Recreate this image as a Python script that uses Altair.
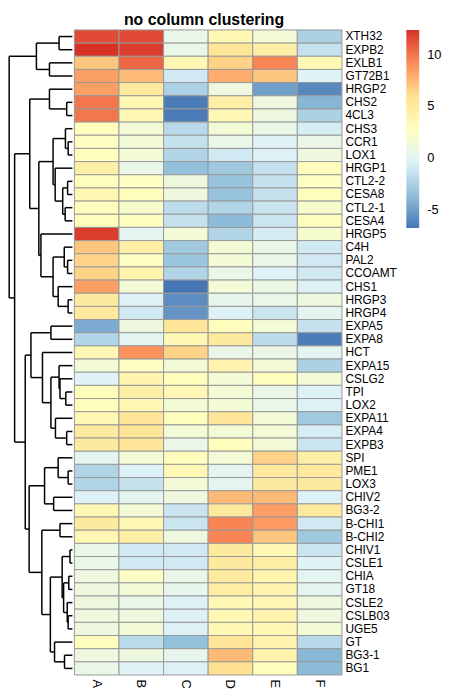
import altair as alt
import pandas as pd

rows = ["XTH32", "EXPB2", "EXLB1", "GT72B1", "HRGP2", "CHS2", "4CL3", "CHS3", "CCR1", "LOX1",
        "HRGP1", "CTL2-2", "CESA8", "CTL2-1", "CESA4", "HRGP5", "C4H", "PAL2", "CCOAMT", "CHS1",
        "HRGP3", "HRGP4", "EXPA5", "EXPA8", "HCT", "EXPA15", "CSLG2", "TPI", "LOX2", "EXPA11",
        "EXPA4", "EXPB3", "SPI", "PME1", "LOX3", "CHIV2", "BG3-2", "B-CHI1", "B-CHI2", "CHIV1",
        "CSLE1", "CHIA", "GT18", "CSLE2", "CSLB03", "UGE5", "GT", "BG3-1", "BG1"]
cols = ["A", "B", "C", "D", "E", "F"]

col_A = [11.5, 12.4, 7.0, 8.5, 8.5, 10.0, 10.0, 3.0, 2.5, 3.0,
         4.5, 3.0, 3.5, 3.0, 3.0, 12.0, 7.0, 6.5, 6.5, 8.5,
         5.0, 5.0, -4.5, -2.3, 3.5, 1.5, -0.3, 3.0, 3.0, 3.5,
         5.0, 5.0, 0.0, -2.3, -2.3, -0.5, 3.5, 5.0, 3.5, 0.5,
         0.5, 1.0, 1.0, 1.0, 1.0, 1.0, 3.0, 1.0, 0.5]
col_B = [11.5, 12.0, 10.5, 7.5, 5.0, 3.5, 3.5, 1.5, 1.5, 1.5,
         0.5, 2.5, 3.0, 2.0, 3.0, 0.0, 4.5, 2.5, 4.0, 1.5,
         -0.5, -1.0, 1.0, 0.0, 9.0, 2.5, 4.0, 4.5, 3.5, 5.5,
         5.5, 5.5, 1.5, -0.5, -1.5, 0.0, 1.5, 3.5, 4.5, -1.0,
         -1.0, 2.5, 1.5, 0.5, 1.0, 1.5, -1.8, 1.0, -0.3]
col_C = [0.5, 0.5, 3.5, -1.0, -2.5, -6.5, -6.5, -2.0, -1.5, -2.3,
         -3.5, 1.0, 1.0, -1.8, -1.5, 1.5, -3.0, -3.2, -2.3, -6.8,
         -5.8, -5.5, 5.5, 3.5, 6.5, 1.5, 3.0, 3.5, 1.5, 3.0,
         1.5, 0.5, 3.0, 3.5, 1.5, 1.0, -1.3, -1.3, 1.0, -1.0,
         -1.0, 0.5, 0.3, -0.5, -0.5, -0.5, -3.5, 0.3, -0.5]
col_D = [3.5, 5.5, 6.5, 8.0, 1.0, 4.5, 3.5, 1.5, 0.5, -1.0,
         -3.0, -3.3, -3.3, -2.3, -3.8, -2.3, 1.5, 1.5, 0.5, 1.5,
         0.3, -0.5, 3.0, 5.0, 0.5, 4.0, 1.5, 1.5, 1.5, 5.5,
         1.5, 3.0, 1.5, 0.0, 0.0, 7.5, 5.0, 9.5, 9.5, 5.0,
         5.0, 5.0, 4.7, 3.5, 3.5, 3.5, 5.5, 7.5, 6.0]
col_E = [1.5, 4.5, 9.5, 7.0, -5.0, 1.0, 1.0, 0.5, -0.3, -0.5,
         -1.5, -1.5, -1.5, -1.3, -1.3, -0.8, 0.5, 0.5, -0.5, 0.8,
         0.5, -1.3, 1.5, -1.8, 0.5, 1.5, 3.0, 0.5, 0.5, 1.5,
         1.5, 1.5, 6.5, 5.0, 5.0, 7.5, 8.5, 8.7, 7.0, 3.5,
         4.5, 4.0, 4.0, 3.5, 4.0, 3.5, 4.0, 4.0, 3.0]
col_F = [-2.5, -1.5, 3.5, -0.3, -6.0, -4.0, -2.5, -0.8, 0.5, 1.0,
         3.0, 2.5, 3.0, 2.0, 3.0, 2.0, -1.0, -1.0, -1.0, -0.5,
         1.0, 0.0, -1.5, -6.5, 0.0, -2.5, 1.5, -0.5, -0.5, -3.0,
         -0.8, -1.3, 4.5, 5.0, 5.0, -0.5, 5.0, -1.0, -3.0, -1.3,
         -0.3, 0.0, 0.0, 1.0, 1.0, 1.5, -2.0, -4.0, -3.8]

# row dendrogram: (node, left child, right child, merge height)
merge_node = ["n1", "n2", "nA", "n3", "nD", "nH", "nG", "nK", "nL", "nJ", "nI", "nF",
              "nP", "nO", "nR", "nQ", "nN", "nM", "nE", "nC",
              "nU", "nZ", "nY", "nX", "nAB", "nAA", "nW", "nV", "nT",
              "nAF", "nAE", "nAG", "nAD", "nAI", "n4", "n5", "n6", "nAM", "nAL", "nAK",
              "n7", "nAN", "nAJ", "nAH", "nAC", "nS", "nB", "root"]
merge_left = ["XTH32", "EXLB1", "n1", "CHS2", "HRGP2", "CCR1", "CHS3", "CTL2-2", "CTL2-1", "nK", "HRGP1", "nG",
              "PAL2", "C4H", "HRGP3", "CHS1", "nO", "HRGP5", "nF", "nD",
              "EXPA5", "TPI", "CSLG2", "EXPA15", "EXPA4", "EXPA11", "nX", "HCT", "nU",
              "PME1", "SPI", "CHIV2", "nAE", "B-CHI1", "CHIV1", "CHIA", "CSLB03", "CSLE2", "n5", "n4",
              "BG3-1", "GT", "nAK", "nAI", "nAD", "nT", "nC", "nA"]
merge_right = ["EXPB2", "GT72B1", "n2", "4CL3", "n3", "LOX1", "nH", "CESA8", "CESA4", "nL", "nJ", "nI",
               "CCOAMT", "nP", "HRGP4", "nR", "nQ", "nN", "nM", "nE",
               "EXPA8", "LOX2", "nZ", "nY", "EXPB3", "nAB", "nAA", "nW", "nV",
               "LOX3", "nAF", "BG3-2", "nAG", "B-CHI2", "CSLE1", "GT18", "UGE5", "n6", "nAM", "nAL",
               "BG1", "n7", "nAN", "nAJ", "nAH", "nAC", "nS", "nB"]
merge_height = [14.7, 25.3, 39.7, 6.3, 25.3, 4.7, 7.7, 5.3, 8.0, 10.7, 19.0, 21.3,
                5.3, 9.0, 4.7, 15.7, 21.3, 34.7, 37.0, 47.0,
                23.7, 7.3, 13.7, 14.7, 6.3, 18.7, 23.7, 33.0, 45.7,
                4.7, 15.7, 20.7, 30.7, 13.7, 2.7, 4.0, 4.7, 5.7, 9.7, 11.3,
                8.7, 19.7, 24.3, 33.7, 47.7, 52.0, 63.7, 69.7]

# heatmap table
records = []
for c, vals in zip(cols, [col_A, col_B, col_C, col_D, col_E, col_F]):
    for g, v in zip(rows, vals):
        records.append({"gene": g, "col": c, "value": v})
heat_df = pd.DataFrame(records)

# dendrogram segments
pos = {g: i + 0.5 for i, g in enumerate(rows)}
hgt = {g: 0.0 for g in rows}
segs = []
for node, a, b, h in zip(merge_node, merge_left, merge_right, merge_height):
    segs.append({"x0": h, "x1": h, "y0": pos[a], "y1": pos[b]})
    segs.append({"x0": hgt[a], "x1": h, "y0": pos[a], "y1": pos[a]})
    segs.append({"x0": hgt[b], "x1": h, "y0": pos[b], "y1": pos[b]})
    pos[node] = (pos[a] + pos[b]) / 2
    hgt[node] = h
seg_df = pd.DataFrame(segs)

FONT = "Liberation Sans"
stops = [-6.8, -3.6, -0.4, 2.8, 6.0, 9.2, 12.4]
palette = ["#4575B4", "#91BFDB", "#E0F3F8", "#FFFFBF", "#FEE090", "#FC8D59", "#D73027"]

dendro = alt.Chart(seg_df).mark_rule(color="black", strokeWidth=1.5).encode(
    x=alt.X("x0:Q", scale=alt.Scale(domain=[0, 71], reverse=True, nice=False, zero=False), axis=None),
    x2="x1:Q",
    y=alt.Y("y0:Q", scale=alt.Scale(domain=[0, 49], reverse=True, nice=False, zero=False), axis=None),
    y2="y1:Q",
).properties(width=65, height=651)

heat = alt.Chart(heat_df).mark_rect(stroke="#999999", strokeWidth=1).encode(
    x=alt.X("col:N", sort=cols, scale=alt.Scale(paddingInner=0, paddingOuter=0),
            axis=alt.Axis(orient="bottom", labelAngle=90, ticks=False, domain=False,
                          labelFontSize=13, labelFont=FONT, labelColor="black",
                          labelPadding=4, title=None)),
    y=alt.Y("gene:N", sort=rows, scale=alt.Scale(paddingInner=0, paddingOuter=0),
            axis=alt.Axis(orient="right", ticks=False, domain=False,
                          labelFontSize=12, labelFont=FONT, labelColor="black",
                          labelPadding=3, title=None)),
    color=alt.Color("value:Q",
                    scale=alt.Scale(domain=stops, range=palette, interpolate="rgb"),
                    legend=alt.Legend(title=None, orient="none", legendX=402, legendY=0,
                                      direction="vertical", gradientLength=200,
                                      gradientThickness=13, gradientStrokeWidth=0,
                                      values=[-5, 0, 5, 10], labelFontSize=13,
                                      labelExpr="'' + datum.value",
                                      labelFont=FONT, labelColor="black", labelOffset=8)),
).properties(width=270, height=651)

chart = alt.hconcat(dendro, heat, spacing=0).properties(
    padding={"left": 0, "top": 0, "right": 0, "bottom": 0},
    title=alt.TitleParams("no column clustering", font=FONT, fontSize=16, fontWeight="bold",
                          anchor="start", dx=117, offset=2, color="black"),
).configure_view(stroke=None)

chart.save("out.html", embed_options={"renderer": "svg", "actions": False})
